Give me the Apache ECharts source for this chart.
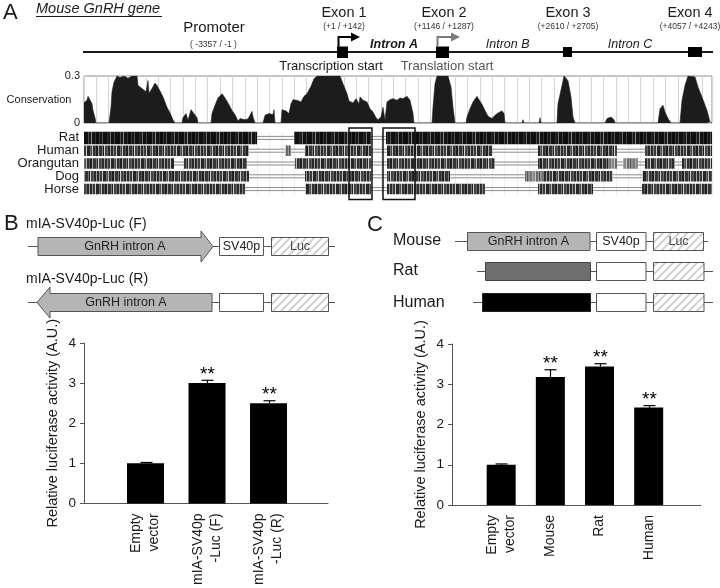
<!DOCTYPE html>
<html><head><meta charset="utf-8">
<script src="https://cdn.jsdelivr.net/npm/echarts/dist/echarts.min.js"></script>
<style>html,body{margin:0;padding:0;background:#fff}#c{width:720px;height:588px}</style>
</head><body><div id="c"></div>
<script>
const FONT = '"Liberation Sans", Arial, Helvetica, sans-serif';

// ---------- Panel A data ----------
const alignLen = 628; // alignment columns (scaled)
const consPos = [0,3,4,6,8,9,11,12,25,27,28,30,33,36,40,44,48,53,54,57,59,62,64,65,68,71,73,76,79,83,86,89,91,98,99,102,104,107,109,113,114,127,128,131,134,138,141,144,148,151,154,156,161,164,168,169,171,179,181,185,189,190,191,197,198,202,205,207,209,213,217,220,223,227,230,233,256,259,263,265,269,272,275,276,279,283,286,289,292,294,297,299,300,301,303,306,309,313,316,319,323,326,329,330,348,349,351,353,364,367,369,371,382,383,386,389,393,395,398,401,404,408,411,414,418,420,421,438,439,440,455,456,457,473,474,478,480,484,487,489,491,521,523,527,530,531,574,576,579,581,584,587,596,598,601,604,611,614,618,623,626,628];
const consVal = [0.13,0.145,0.17,0.18,0.123,0.08,0.034,0,0,0.1,0.2,0.26,0.3,0.29,0.3,0.285,0.3,0.3,0.24,0.225,0.234,0.2,0.27,0.19,0.22,0.255,0.24,0.205,0.166,0.1,0.064,0.02,0,0,0.034,0.06,0.017,0.085,0.077,0.034,0,0,0.06,0.113,0.16,0.187,0.16,0.128,0.08,0.053,0.013,0.028,0.021,0.026,0.074,0.038,0,0,0.049,0.06,0.053,0.085,0,0,0.085,0.077,0.06,0.123,0.149,0.145,0.134,0.17,0.187,0.234,0.283,0.3,0.3,0.25,0.187,0.14,0.128,0.155,0.123,0.166,0.145,0.134,0.091,0.07,0.034,0.02,0.038,0.1,0.11,0.017,0.134,0.149,0.155,0.145,0.16,0.155,0.17,0.145,0.06,0,0,0.1,0.25,0.3,0.3,0.23,0.1,0,0,0.038,0.091,0.134,0.17,0.149,0.119,0.08,0.043,0.028,0.049,0.064,0.077,0.06,0,0,0.021,0,0,0.034,0,0,0.123,0.24,0.3,0.27,0.166,0.038,0,0,0.028,0.038,0.021,0,0,0.091,0.113,0.07,0.028,0,0,0.145,0.24,0.3,0.294,0.23,0.166,0.08,0.006,0];
const alignRows = ['Rat','Human','Orangutan','Dog','Horse'];
// [row, start column, end column, identity]
const alignBlocks = [
  [0,0,173,0.95],[0,210,287,0.95],[0,302,628,0.95],
  [1,0,165,0.8],[1,201,207,0.5],[1,221,287,0.8],[1,303,408,0.8],[1,454,533,0.8],[1,561,628,0.8],
  [2,0,90,0.8],[2,100,163,0.8],[2,211,287,0.8],[2,303,411,0.8],[2,454,524,0.8],[2,524,533,0.5],[2,539,554,0.5],[2,561,591,0.8],[2,598,628,0.8],
  [3,0,165,0.8],[3,221,287,0.8],[3,303,366,0.8],[3,441,460,0.6],[3,460,529,0.8],[3,558,628,0.8],
  [4,0,161,0.8],[4,221,287,0.8],[4,303,401,0.8],[4,454,509,0.8],[4,558,628,0.8]
];
const boxedRegions = [[265,288],[299,331]];
const exonNames = ['Exon 1','Exon 2','Exon 3','Exon 4'];
const exonRanges = ['(+1 / +142)','(+1146 / +1287)','(+2610 / +2705)','(+4057 / +4243)'];
const intronNames = ['Intron A','Intron B','Intron C'];

// ---------- Panel B / C data ----------
const catsB = ['Empty\nvector','mIA-SV40p\n-Luc (F)','mIA-SV40p\n-Luc (R)'];
const valsB = [1.0, 3.0, 2.5];
const errB  = [0.02, 0.07, 0.06];
const sigB  = ['', '**', '**'];
const catsC = ['Empty\nvector','Mouse','Rat','Human'];
const valsC = [1.0, 3.18, 3.44, 2.42];
const errC  = [0.02, 0.18, 0.07, 0.05];
const sigC  = ['', '**', '**', '**'];
const yMin = 0, yMax = 4, yStep = 1;
const yName = 'Relative luciferase activity (A.U.)';

// ---------- patterns ----------
const darkSeq = [[3,'#0d0d0d'],[1,'#3a3a3a'],[2,'#151515'],[1,'#555'],[4,'#101010'],[1,'#2c2c2c'],[2,'#1b1b1b'],[1,'#6a6a6a'],[3,'#121212'],[1,'#404040'],[5,'#0f0f0f'],[1,'#505050'],[2,'#181818'],[1,'#8a8a8a'],[3,'#141414'],[1,'#333']];
const medSeq = [[2,'#2b2b2b'],[1,'#8a8a8a'],[2,'#3a3a3a'],[1,'#c8c8c8'],[3,'#262626'],[1,'#6e6e6e'],[1,'#4a4a4a'],[1,'#bdbdbd'],[2,'#303030'],[1,'#5a5a5a'],[2,'#1e1e1e'],[1,'#a5a5a5'],[3,'#353535'],[1,'#777'],[1,'#222'],[1,'#d0d0d0'],[2,'#444'],[1,'#666'],[2,'#2a2a2a'],[1,'#9e9e9e']];
const lightSeq = [[2,'#777'],[1,'#aaa'],[2,'#888'],[1,'#c8c8c8'],[2,'#6a6a6a'],[1,'#999'],[1,'#555'],[2,'#8c8c8c']];
function stripeCanvas(seq, off){
  const w = seq.reduce((a,s)=>a+s[0],0);
  const c = document.createElement('canvas'); c.width = w; c.height = 16;
  const g = c.getContext('2d'); let x = 0;
  for (let i=0;i<seq.length;i++){ const s = seq[(i+off)%seq.length]; g.fillStyle = s[1]; g.fillRect(x,0,s[0],16); x+=s[0]; }
  return c;
}
const patCache = {};
function blockPattern(identity, row){
  const lvl = identity >= 0.9 ? 'd' : (identity >= 0.7 ? 'm' : 'l');
  const key = lvl + row;
  if (!patCache[key]) {
    const seq = lvl === 'd' ? darkSeq : (lvl === 'm' ? medSeq : lightSeq);
    patCache[key] = {image: stripeCanvas(seq, row*5), repeat: 'repeat'};
  }
  return patCache[key];
}
function hatchCanvas(){
  const c=document.createElement('canvas'); c.width=c.height=8; const g=c.getContext('2d');
  g.fillStyle='#fff'; g.fillRect(0,0,8,8); g.strokeStyle='#d2d2d2'; g.lineWidth=2;
  g.beginPath(); g.moveTo(0,8); g.lineTo(8,0); g.moveTo(-2,2); g.lineTo(2,-2); g.moveTo(6,10); g.lineTo(10,6); g.stroke();
  return c;
}
const hatch = {image: hatchCanvas(), repeat:'repeat'};

// ---------- graphic helpers ----------
function T(x,y,text,o){ o=o||{}; return {type:'text', x:x, y:y, silent:true, style:{text:text, fontSize:o.size||13, fontFamily:FONT, fontStyle:o.italic?'italic':'normal', fontWeight:o.bold?'bold':'normal', fill:o.color||'#1a1a1a', align:o.align||'left', verticalAlign:o.va||'middle'}}; }
function R(x,y,w,h,fill,stroke,lw){ return {type:'rect', shape:{x:x,y:y,width:w,height:h}, style:{fill:fill, stroke:stroke||null, lineWidth:lw||1}}; }
function L(x1,y1,x2,y2,stroke,lw){ return {type:'line', shape:{x1:x1,y1:y1,x2:x2,y2:y2}, style:{stroke:stroke||'#555', lineWidth:lw||1}}; }
function P(points, fill, stroke, lw){ return {type:'polygon', shape:{points:points}, style:{fill:fill, stroke:stroke||null, lineWidth:lw||1}}; }
function PL(points, stroke, lw){ return {type:'polyline', shape:{points:points}, style:{stroke:stroke, lineWidth:lw, fill:null}}; }

const g = [];
// Panel A header
g.push(T(3,12.5,'A',{size:22}));
g.push(T(36,9,'Mouse GnRH gene',{size:14.5,italic:true}));
g.push(L(36,16.5,162,16.5,'#1a1a1a',1));
g.push(T(214,27.5,'Promoter',{size:15,align:'center'}));
g.push(T(213.5,45,'( -3357 / -1 )',{size:8.5,align:'center',color:'#333'}));
g.push(L(83,52,713,52,'#1a1a1a',2));
const exonBox = [[337,46.5,11,11.5],[436,46.5,13,11.5],[563,47,9,10],[688,47,14,10]];
const exonCx = [344,444,568,690];
exonBox.forEach(b=>g.push(R(b[0],b[1],b[2],b[3],'#000')));
exonNames.forEach((n,i)=>{ g.push(T(exonCx[i],12.5,n,{size:14.5,align:'center'})); g.push(T(exonCx[i],26.7,exonRanges[i],{size:8.5,align:'center',color:'#333'})); });
g.push(T(394,45,intronNames[0],{size:12.5,italic:true,bold:true,align:'center'}));
g.push(T(507.7,45,intronNames[1],{size:12.5,italic:true,align:'center'}));
g.push(T(630,45,intronNames[2],{size:12.5,italic:true,align:'center'}));
g.push(PL([[338.5,47],[338.5,37],[352,37]],'#000',2));
g.push(P([[351,32.5],[360,37],[351,41.5]],'#000'));
g.push(PL([[437.5,47],[437.5,37],[452,37]],'#7a7a7a',2));
g.push(P([[451,32.5],[460,37],[451,41.5]],'#7a7a7a'));
g.push(T(331,66.7,'Transcription start',{size:13,align:'center'}));
g.push(T(447,66.7,'Translation start',{size:13,align:'center',color:'#555'}));
g.push(T(39,100,'Conservation',{size:11,align:'center'}));

// Panel B constructs
g.push(T(4,224,'B',{size:22}));
g.push(T(26,224,'mIA-SV40p-Luc (F)',{size:14}));
g.push(L(28,246.5,335,246.5,'#555',1));
g.push(P([[38,237.5],[201,237.5],[201,231],[213,246.5],[201,262],[201,255.5],[38,255.5]],'#b5b5b5','#555',1));
g.push(T(125,246.5,'GnRH intron A',{size:12.5,align:'center',color:'#222'}));
g.push(R(219.5,237.5,44,18,'#fff','#555',1));
g.push(T(241.5,246.5,'SV40p',{size:12.5,align:'center',color:'#222'}));
g.push(R(271.5,237.5,57,18,hatch,'#555',1));
g.push(T(300,246.5,'Luc',{size:12.5,align:'center',color:'#444'}));
g.push(T(26,279,'mIA-SV40p-Luc (R)',{size:14}));
g.push(L(28,302.5,335,302.5,'#555',1));
g.push(P([[37,302.5],[50,287],[50,293.5],[212,293.5],[212,311.5],[50,311.5],[50,318]],'#b5b5b5','#555',1));
g.push(T(126,302.5,'GnRH intron A',{size:12.5,align:'center',color:'#222'}));
g.push(R(219.5,293.5,44,18,'#fff','#555',1));
g.push(R(271.5,293.5,57,18,hatch,'#555',1));

// Panel C constructs
g.push(T(367,225,'C',{size:22}));
g.push(T(393,241,'Mouse',{size:16}));
g.push(T(393,271,'Rat',{size:16}));
g.push(T(393,302.5,'Human',{size:16}));
g.push(L(455,241.5,708,241.5,'#555',1));
g.push(R(467.5,232.5,122.5,18,'#b5b5b5','#555',1));
g.push(T(528.5,241.5,'GnRH intron A',{size:12.5,align:'center',color:'#222'}));
g.push(R(596.5,232.5,49.5,18,'#fff','#555',1));
g.push(T(621,241.5,'SV40p',{size:12.5,align:'center',color:'#222'}));
g.push(R(653.5,232.5,50,18,hatch,'#555',1));
g.push(T(678.5,241.5,'Luc',{size:12.5,align:'center',color:'#444'}));
g.push(L(477,271.5,713,271.5,'#555',1));
g.push(R(485.5,262.5,105,18,'#6e6e6e','#444',1));
g.push(R(596.5,262.5,49.5,18,'#fff','#555',1));
g.push(R(653.5,262.5,50.5,18,hatch,'#555',1));
g.push(L(473,302.5,713,302.5,'#555',1));
g.push(R(482.5,293.5,108,18,'#000','#222',1));
g.push(R(596.5,293.5,49.5,18,'#fff','#555',1));
g.push(R(653.5,293.5,50.5,18,hatch,'#555',1));

// ---------- axes helpers ----------
function barXAxis(grid, cats, max){
  return {gridIndex:grid, type:'value', min:0, max:max, interval:1,
    axisLine:{show:true, onZero:false, lineStyle:{color:'#555', width:1}}, axisTick:{show:false}, splitLine:{show:false},
    axisLabel:{rotate:90, fontSize:14, lineHeight:18, margin:10, color:'#1a1a1a', fontFamily:FONT,
      formatter:v=>(Number.isInteger(v) && v>=1 && v<=cats.length) ? cats[v-1] : ''}};
}
function barYAxis(grid){
  return {gridIndex:grid, type:'value', min:yMin, max:yMax, interval:yStep,
    axisLine:{show:true, lineStyle:{color:'#555', width:1}}, axisTick:{show:true, length:4, lineStyle:{color:'#555'}},
    splitLine:{show:false}, axisLabel:{fontSize:13.5, margin:8, color:'#1a1a1a', fontFamily:FONT},
    name:yName, nameLocation:'middle', nameGap:24, nameTextStyle:{fontSize:14.5, color:'#1a1a1a', fontFamily:FONT}};
}
function errSeries(xi, yi, vals, errs, sigs){
  return {type:'custom', xAxisIndex:xi, yAxisIndex:yi, silent:true, z:5,
    data: vals.map((v,i)=>[i+1, v, errs[i], i]),
    encode:{x:0, y:1},
    renderItem:(params, api)=>{
      const x=api.value(0), v=api.value(1), e=api.value(2), i=api.value(3);
      const b=api.coord([x,v]), t=api.coord([x,v+e]);
      const xc = Math.round(b[0])+0.5;
      return {type:'group', children:[
        {type:'line', shape:{x1:xc,y1:b[1],x2:xc,y2:t[1]}, style:{stroke:'#000', lineWidth:1.2}},
        {type:'line', shape:{x1:xc-6,y1:t[1],x2:xc+6,y2:t[1]}, style:{stroke:'#000', lineWidth:1.2}},
        {type:'text', x:xc, y:t[1]+4, style:{text:sigs[i], fontSize:19, fontFamily:FONT, fill:'#000', align:'center', verticalAlign:'bottom'}}
      ]};
    }};
}

const option = {
  animation:false, backgroundColor:'#fff', textStyle:{fontFamily:FONT},
  grid:[
    {left:84, top:76, width:628, height:47, show:true, borderColor:'#8c8c8c', borderWidth:1, backgroundColor:'#fff'},
    {left:84, top:131.5, width:628, height:64},
    {left:84, top:343, width:244, height:162},
    {left:452, top:344, width:249, height:161}
  ],
  xAxis:[
    {gridIndex:0, type:'value', min:0, max:alignLen, show:false},
    {gridIndex:0, type:'value', min:-7.37, max:620.63, interval:12.37, axisLine:{show:false}, axisTick:{show:false}, axisLabel:{show:false}, splitLine:{show:true, lineStyle:{color:'#d6d6d6', width:1}}},
    {gridIndex:1, type:'value', min:0, max:alignLen, show:false},
    {gridIndex:1, type:'value', min:-7.37, max:620.63, interval:12.37, axisLine:{show:false}, axisTick:{show:false}, axisLabel:{show:false}, splitLine:{show:true, lineStyle:{color:'#ececec', width:1}}},
    barXAxis(2, catsB, 3.967),
    barXAxis(3, catsC, 5.064)
  ],
  yAxis:[
    {gridIndex:0, type:'value', min:0, max:0.3, interval:0.3, axisLine:{show:false}, axisTick:{show:false}, splitLine:{show:false},
      axisLabel:{fontSize:11, margin:4, color:'#1a1a1a', fontFamily:FONT}},
    {gridIndex:1, type:'category', data:alignRows, inverse:true, axisLine:{show:false}, axisTick:{show:false}, splitLine:{show:false},
      axisLabel:{interval:0, fontSize:13, margin:5, color:'#1a1a1a', fontFamily:FONT}},
    barYAxis(2), barYAxis(3)
  ],
  series:[
    {type:'line', xAxisIndex:0, yAxisIndex:0, data:consPos.map((p,i)=>[p, consVal[i]]), showSymbol:false, symbol:'none',
      lineStyle:{width:0.6, color:'#1c1c1c'}, areaStyle:{color:'#1c1c1c', opacity:1}, silent:true},
    {type:'custom', xAxisIndex:2, yAxisIndex:1, silent:true, data:alignRows.map((r,i)=>[i,0,alignLen]), encode:{x:[1,2], y:0},
      renderItem:(p, api)=>{
        const a=api.coord([api.value(1), api.value(0)]), b=api.coord([api.value(2), api.value(0)]);
        return {type:'group', children:[
          {type:'line', shape:{x1:a[0],y1:a[1]-1.5,x2:b[0],y2:b[1]-1.5}, style:{stroke:'#8a8a8a', lineWidth:1}},
          {type:'line', shape:{x1:a[0],y1:a[1]+1.5,x2:b[0],y2:b[1]+1.5}, style:{stroke:'#8a8a8a', lineWidth:1}}
        ]};
      }},
    {type:'custom', xAxisIndex:2, yAxisIndex:1, silent:true, data:alignBlocks, encode:{x:[1,2], y:0},
      renderItem:(p, api)=>{
        const row=api.value(0), s=api.value(1), e=api.value(2), id=api.value(3);
        const a=api.coord([s,row]), b=api.coord([e,row]);
        const h = row===0 ? 12.5 : 10.5;
        return {type:'rect', shape:{x:a[0], y:a[1]-h/2, width:b[0]-a[0], height:h}, style:{fill:blockPattern(id,row)}};
      }},
    {type:'custom', xAxisIndex:2, yAxisIndex:1, silent:true, z:4, data:boxedRegions, encode:{x:[0,1]},
      renderItem:(p, api)=>{
        const a=api.coord([api.value(0), 0]), b=api.coord([api.value(1), alignRows.length-1]);
        const band=api.size([0,1])[1];
        return {type:'rect', shape:{x:a[0], y:a[1]-band/2-3.5, width:b[0]-a[0], height:(b[1]-a[1])+band+7.5}, style:{fill:null, stroke:'#111', lineWidth:1.5}};
      }},
    {type:'bar', xAxisIndex:4, yAxisIndex:2, data:valsB.map((v,i)=>[i+1,v]), barWidth:37, itemStyle:{color:'#000'}, silent:true},
    errSeries(4, 2, valsB, errB, sigB),
    {type:'bar', xAxisIndex:5, yAxisIndex:3, data:valsC.map((v,i)=>[i+1,v]), barWidth:29, itemStyle:{color:'#000'}, silent:true},
    errSeries(5, 3, valsC, errC, sigC)
  ],
  graphic:{elements:g}
};
const chart = echarts.init(document.getElementById('c'), null, {renderer:'canvas', width:720, height:588});
chart.setOption(option);
</script></body></html>
